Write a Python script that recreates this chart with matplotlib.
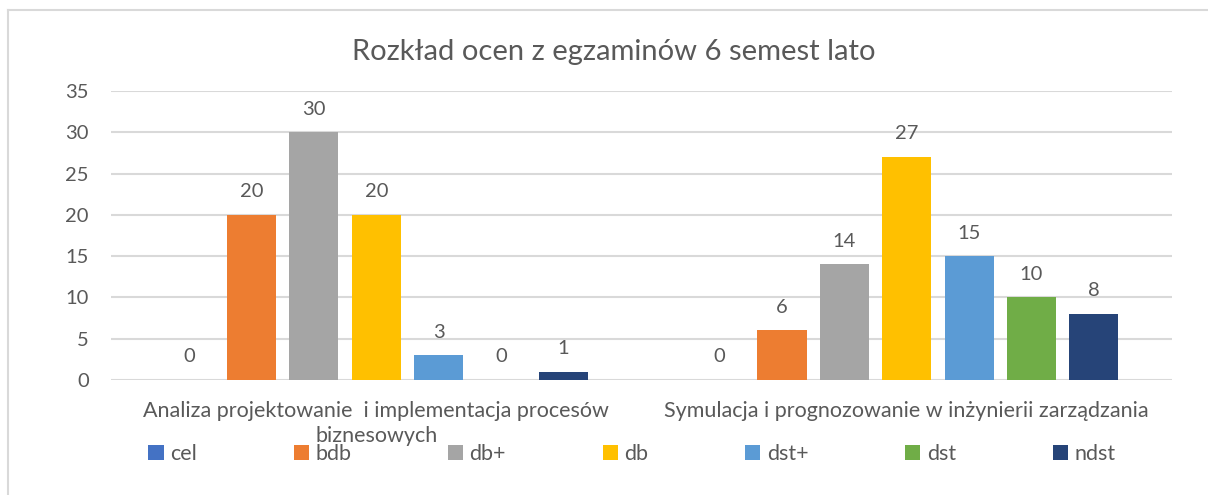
import numpy as np
import matplotlib.pyplot as plt
from matplotlib.patches import Patch
from matplotlib.lines import Line2D

# data
courses = ['Analiza projektowanie  i implementacja procesów\nbiznesowych',
           'Symulacja i prognozowanie w inżynierii zarządzania']
grades = ['cel', 'bdb', 'db+', 'db', 'dst+', 'dst', 'ndst']
counts_analiza = [0, 20, 30, 20, 3, 0, 1]
counts_symulacja = [0, 6, 14, 27, 15, 10, 8]
colors = ['#4472C4', '#ED7D31', '#A5A5A5', '#FFC000', '#5B9BD5', '#70AD47', '#264478']

title = 'Rozkład ocen z egzaminów 6 semest lato'
txt_color = '#595959'
grid_color = '#D9D9D9'

plt.rcParams['font.family'] = ['Lato', 'DejaVu Sans']

fig = plt.figure(figsize=(12.08, 4.95), dpi=100)
ax = fig.add_axes([111 / 1208, 1 - 380 / 495, (1172 - 111) / 1208, (380 - 91) / 495])

values = np.array([counts_analiza, counts_symulacja])
x = np.arange(len(courses))
step = 0.1176
width = 0.0926

for i, g in enumerate(grades):
    pos = x + (i - 3) * step
    bars = ax.bar(pos, values[:, i], width=width, color=colors[i], label=g, zorder=3)
    for b, v in zip(bars, values[:, i]):
        ax.annotate(str(v), (b.get_x() + b.get_width() / 2, v),
                    xytext=(0, 10.5), textcoords='offset points',
                    ha='center', va='bottom', fontsize=14.5, color=txt_color)

ax.set_xlim(-0.5, 1.5)
ax.set_ylim(0, 35)
ax.set_yticks(range(0, 36, 5))
ax.yaxis.grid(True, color=grid_color, linewidth=1.5, zorder=0)
ax.set_axisbelow(True)
for s in ax.spines.values():
    s.set_visible(False)
ax.tick_params(axis='both', length=0, labelsize=14.5, labelcolor=txt_color)
ax.tick_params(axis='y', pad=16)
ax.tick_params(axis='x', pad=15, labelsize=15.5)
ax.set_xticks(x)
ax.set_xticklabels(courses, linespacing=1.35)

fig.text(614 / 1208, 1 - 52 / 495, title, ha='center', va='center',
         fontsize=21, color=txt_color)

handles = [Patch(facecolor=c, edgecolor='none') for c in colors]
fig.legend(handles, grades, loc='center', bbox_to_anchor=(632 / 1208, 1 - 454 / 495),
           ncol=7, frameon=False, fontsize=15.5, labelcolor=txt_color,
           handlelength=0.7, handleheight=0.7, handletextpad=0.3, columnspacing=4.5)

# chart area border (only top and left visible in the crop)
fig.add_artist(Line2D([8 / 1208, 8 / 1208], [0, 1 - 10 / 495], transform=fig.transFigure,
                      color=grid_color, linewidth=1.5))
fig.add_artist(Line2D([8 / 1208, 1], [1 - 10 / 495, 1 - 10 / 495], transform=fig.transFigure,
                      color=grid_color, linewidth=1.5))

fig.savefig('out.png', dpi=100)
